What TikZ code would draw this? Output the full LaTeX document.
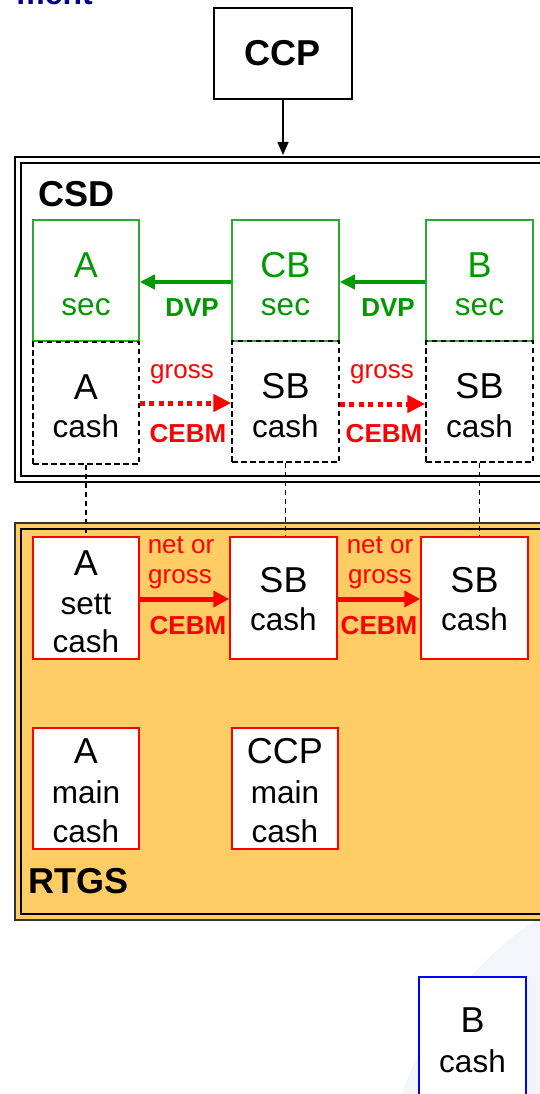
\documentclass[tikz,border=0pt]{standalone}
\usepackage{fontspec}
\setmainfont{Liberation Sans}
\usetikzlibrary{arrows.meta}
\definecolor{sgreen}{HTML}{009900}
\definecolor{sgreenb}{HTML}{2EA82E}
\definecolor{rorange}{HTML}{FFCC66}
\definecolor{navy}{HTML}{000080}
\definecolor{bgcurve}{HTML}{F3F5F9}
\definecolor{sred}{HTML}{FF0000}
\definecolor{sblue}{HTML}{0000FF}
\begin{document}
\begin{tikzpicture}[x=1pt,y=-1pt,
  box/.style={draw, rectangle, inner sep=0pt, line width=1.5pt, minimum width=106pt, minimum height=121pt},
  secbox/.style={box, draw=sgreenb},
  csdcash/.style={box, draw=black, dash pattern=on 5.5pt off 3.5pt},
  rtgsbox/.style={box, draw=sred, fill=white},
  bluebox/.style={box, draw=sblue, fill=white},
  big/.style={anchor=base, inner sep=0pt, font=\fontsize{36}{40}\selectfont},
  small/.style={anchor=base, inner sep=0pt, font=\fontsize{31.5}{36}\selectfont},
  lbl/.style={anchor=base, inner sep=0pt, text=sred, font=\fontsize{26}{30}\selectfont},
  lblb/.style={anchor=base, inner sep=0pt, font=\fontsize{26}{30}\selectfont\bfseries},
  heading/.style={anchor=base west, inner sep=0pt, font=\fontsize{36}{40}\selectfont\bfseries},
  dvp/.style={draw=sgreen, line width=3.5pt, -{Triangle[length=15pt,width=14pt]}},
  cebmdot/.style={draw=sred, line width=5pt, dash pattern=on 5pt off 4.5pt, -{Triangle[length=18pt,width=17pt]}},
  cebm/.style={draw=sred, line width=5pt, -{Triangle[length=16pt,width=16pt]}},
  link/.style={draw=black, line width=1.6pt, dash pattern=on 5.5pt off 3.5pt},
]
\useasboundingbox (0,0) rectangle (540,1094);
\clip (0,0) rectangle (540,1094);
% faint background curve
\fill[bgcurve] (720,1200) circle[radius=335pt];
% cut-off title
\node[anchor=base east, inner sep=0pt, text=navy, font=\fontsize{32}{36}\selectfont\bfseries] (toptitle) at (93,5) {ment};
% CCP
\node[draw, line width=1.5pt, minimum width=138pt, minimum height=91pt, inner sep=0pt,
      font=\fontsize{36}{40}\selectfont\bfseries] (ccp) at (283,53.5) {CCP};
\coordinate (csdtop) at (283,155);
% CSD container
\draw[line width=2pt] (15,157) rectangle (565,482);
\draw[line width=2pt] (21,163) rectangle (565,476);
\node[heading] (csdlabel) at (38,206) {CSD};
% RTGS container
\draw[line width=2pt, draw=black!80, fill=rorange] (15,523) rectangle (565,920);
\draw[line width=2pt] (21,529) rectangle (565,914);
\node[heading] (rtgslabel) at (28,893) {RTGS};
% CSD boxes
\node[secbox] (asec) at (86,280.5) {};
\node[secbox, minimum width=107pt] (cbsec) at (285.5,280.5) {};
\node[secbox, minimum width=107pt] (bsec) at (479.5,280.5) {};
\node[csdcash, minimum height=122pt] (acash) at (86,403) {};
\node[csdcash, minimum width=107pt] (sbcash1) at (285.5,401.5) {};
\node[csdcash, minimum width=107pt] (sbcash2) at (479.5,401.5) {};
% RTGS boxes
\node[rtgsbox, minimum height=122pt] (asett) at (86,598) {};
\node[rtgsbox, minimum width=107pt, minimum height=122pt] (rsb1) at (283.5,598) {};
\node[rtgsbox, minimum width=107pt, minimum height=122pt] (rsb2) at (474.5,598) {};
\node[rtgsbox] (amain) at (86,788.5) {};
\node[rtgsbox] (ccpmain) at (285,788.5) {};
% B cash
\node[bluebox, minimum width=107pt, minimum height=133pt] (bcash) at (472.5,1043.5) {};
% connectors
\draw[line width=1.5pt, -{Triangle[length=13pt,width=11pt]}] (ccp.south) -- (csdtop);
\draw[link] (acash.south) -- (asett.north);
\draw[link] (sbcash1.south) -- (sbcash1.south |- rsb1.north);
\draw[link] (sbcash2.south) -- (sbcash2.south |- rsb2.north);
\draw[dvp] ([yshift=-1.5pt]cbsec.west) -- ([yshift=-1.5pt]cbsec.west -| asec.east);
\draw[dvp] ([yshift=-1.5pt]bsec.west) -- ([yshift=-1.5pt]bsec.west -| cbsec.east);
\draw[cebmdot] (acash.east) -- (acash.east -| sbcash1.west);
\draw[cebmdot] ([yshift=-2.5pt]sbcash1.east) -- ([yshift=-2.5pt]sbcash1.east -| sbcash2.west);
\draw[cebm] ([yshift=-1pt]asett.east) -- ([yshift=-1pt]asett.east -| rsb1.west);
\draw[cebm] ([yshift=-1pt]rsb1.east) -- ([yshift=-1pt]rsb1.east -| rsb2.west);
% box texts
\node[big, text=sgreen] (asec-1) at (86,277) {A};
\node[small, text=sgreen] (asec-2) at (86,315) {sec};
\node[big, text=sgreen] (cbsec-1) at (285.5,277) {CB};
\node[small, text=sgreen] (cbsec-2) at (285.5,315) {sec};
\node[big, text=sgreen] (bsec-1) at (479.5,277) {B};
\node[small, text=sgreen] (bsec-2) at (479.5,315) {sec};
\node[big] (acash-1) at (86,399) {A};
\node[small] (acash-2) at (86,437) {cash};
\node[big] (sbcash1-1) at (285.5,398) {SB};
\node[small] (sbcash1-2) at (285.5,437) {cash};
\node[big] (sbcash2-1) at (479.5,398) {SB};
\node[small] (sbcash2-2) at (479.5,437) {cash};
\node[big] (asett-1) at (86,575) {A};
\node[small] (asett-2) at (86,614) {sett};
\node[small] (asett-3) at (86,652) {cash};
\node[big] (rsb1-1) at (283.5,592) {SB};
\node[small] (rsb1-2) at (283.5,630) {cash};
\node[big] (rsb2-1) at (474.5,592) {SB};
\node[small] (rsb2-2) at (474.5,630) {cash};
\node[big] (amain-1) at (86,763) {A};
\node[small] (amain-2) at (86,803) {main};
\node[small] (amain-3) at (86,842) {cash};
\node[big] (ccpmain-1) at (285,763) {CCP};
\node[small] (ccpmain-2) at (285,803) {main};
\node[small] (ccpmain-3) at (285,842) {cash};
\node[big] (bcash-1) at (472.5,1032) {B};
\node[small] (bcash-2) at (472.5,1072) {cash};
% arrow labels
\node[lblb, text=sgreen] (dvp1) at (192,316) {DVP};
\node[lblb, text=sgreen] (dvp2) at (388,316) {DVP};
\node[lbl] (g1) at (182,378) {gross};
\node[lbl] (g2) at (382,378) {gross};
\node[lblb, text=sred] (c1) at (188,442) {CEBM};
\node[lblb, text=sred] (c2) at (384,442) {CEBM};
\node[lbl] (n1) at (181,553) {net or};
\node[lbl] (n2) at (380,553) {net or};
\node[lbl] (rg1) at (180,583) {gross};
\node[lbl] (rg2) at (380,583) {gross};
\node[lblb, text=sred] (rc1) at (188,634) {CEBM};
\node[lblb, text=sred] (rc2) at (379,634) {CEBM};
\end{tikzpicture}
\end{document}
